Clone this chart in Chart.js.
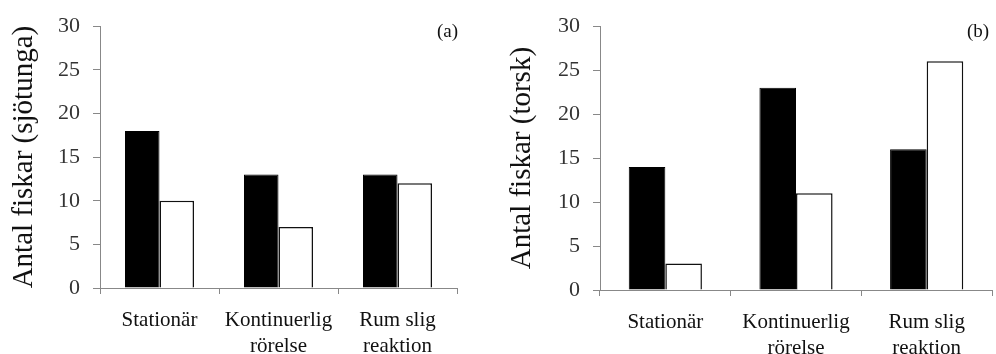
<!DOCTYPE html>
<html>
<head>
<meta charset="utf-8">
<script src="https://cdn.jsdelivr.net/npm/chart.js@4"></script>
<style>
  body { margin: 0; background: #fff; }
  #wrap { position: relative; width: 996px; height: 354px; overflow: hidden; }
  canvas { position: absolute; top: 0; }
  #chartA { left: 0; }
  #chartB { left: 498px; }
</style>
</head>
<body>
<div id="wrap">
  <canvas id="chartA" width="498" height="354"></canvas>
  <canvas id="chartB" width="498" height="354"></canvas>
</div>
<script>
// categories on x axis
const categories = ['Stationär', ['Kontinuerlig', 'rörelse'], ['Rum slig', 'reaktion']];

// panel (a) sjötunga
const sjotungaBlack = [18, 13, 13];
const sjotungaWhite = [10, 7, 12];

// panel (b) torsk
const torskBlack = [14, 23, 16];
const torskWhite = [3, 11, 26];

const yMin = 0;
const yMax = 30;
const yStep = 5;

const serif = 'Liberation Serif';

function panelLabelPlugin(text, x, y) {
    return {
        id: 'panelLabel',
        afterDraw(chart) {
            const ctx = chart.ctx;
            ctx.save();
            ctx.font = '19px "' + serif + '"';
            ctx.fillStyle = '#111';
            ctx.textAlign = 'left';
            ctx.textBaseline = 'middle';
            ctx.fillText(text, x, y);
            ctx.restore();
        }
    };
}

function makeChart(id, black, white, yTitle, label, box) {
    const ctx = document.getElementById(id).getContext('2d');
    return new Chart(ctx, {
        type: 'bar',
        data: {
            labels: categories,
            datasets: [{
                data: black,
                backgroundColor: '#000',
                borderColor: '#000',
                borderWidth: 1,
                categoryPercentage: box.cat,
                barPercentage: 1.0
            }, {
                data: white,
                backgroundColor: '#fff',
                borderColor: '#111',
                borderWidth: 1.5,
                categoryPercentage: box.cat,
                barPercentage: 1.0
            }]
        },
        options: {
            responsive: false,
            animation: false,
            layout: {
                padding: { left: 0, top: box.top, right: box.right, bottom: 0 }
            },
            plugins: {
                legend: { display: false },
                tooltip: { enabled: false }
            },
            scales: {
                x: {
                    grid: {
                        display: true,
                        offset: true,
                        drawOnChartArea: false,
                        tickLength: 6,
                        color: '#888'
                    },
                    border: { color: '#888', width: 1 },
                    ticks: {
                        color: '#111',
                        padding: 13,
                        maxRotation: 0,
                        autoSkip: false,
                        font: { family: serif, size: 21, lineHeight: 1.25 }
                    },
                    afterFit: function (s) { s.height = box.xh; }
                },
                y: {
                    min: yMin,
                    max: yMax,
                    grid: {
                        drawOnChartArea: false,
                        tickLength: 7,
                        color: '#888'
                    },
                    border: { color: '#888', width: 1 },
                    ticks: {
                        stepSize: yStep,
                        color: '#333',
                        padding: 13,
                        font: { family: serif, size: 22 }
                    },
                    title: {
                        display: true,
                        text: yTitle,
                        color: '#111',
                        padding: { top: 7, bottom: 0 },
                        font: { family: serif, size: 29 }
                    },
                    afterFit: function (s) { s.width = box.left; }
                }
            }
        },
        plugins: [panelLabelPlugin(label, box.lx, box.ly)]
    });
}

makeChart('chartA', sjotungaBlack, sjotungaWhite, 'Antal fiskar (sjötunga)', '(a)',
    { left: 100, top: 24, right: 41, xh: 66, cat: 0.58, lx: 437, ly: 32 });
makeChart('chartB', torskBlack, torskWhite, 'Antal fiskar (torsk)', '(b)',
    { left: 102, top: 26, right: 4, xh: 64, cat: 0.56, lx: 469, ly: 32 });
</script>
</body>
</html>
